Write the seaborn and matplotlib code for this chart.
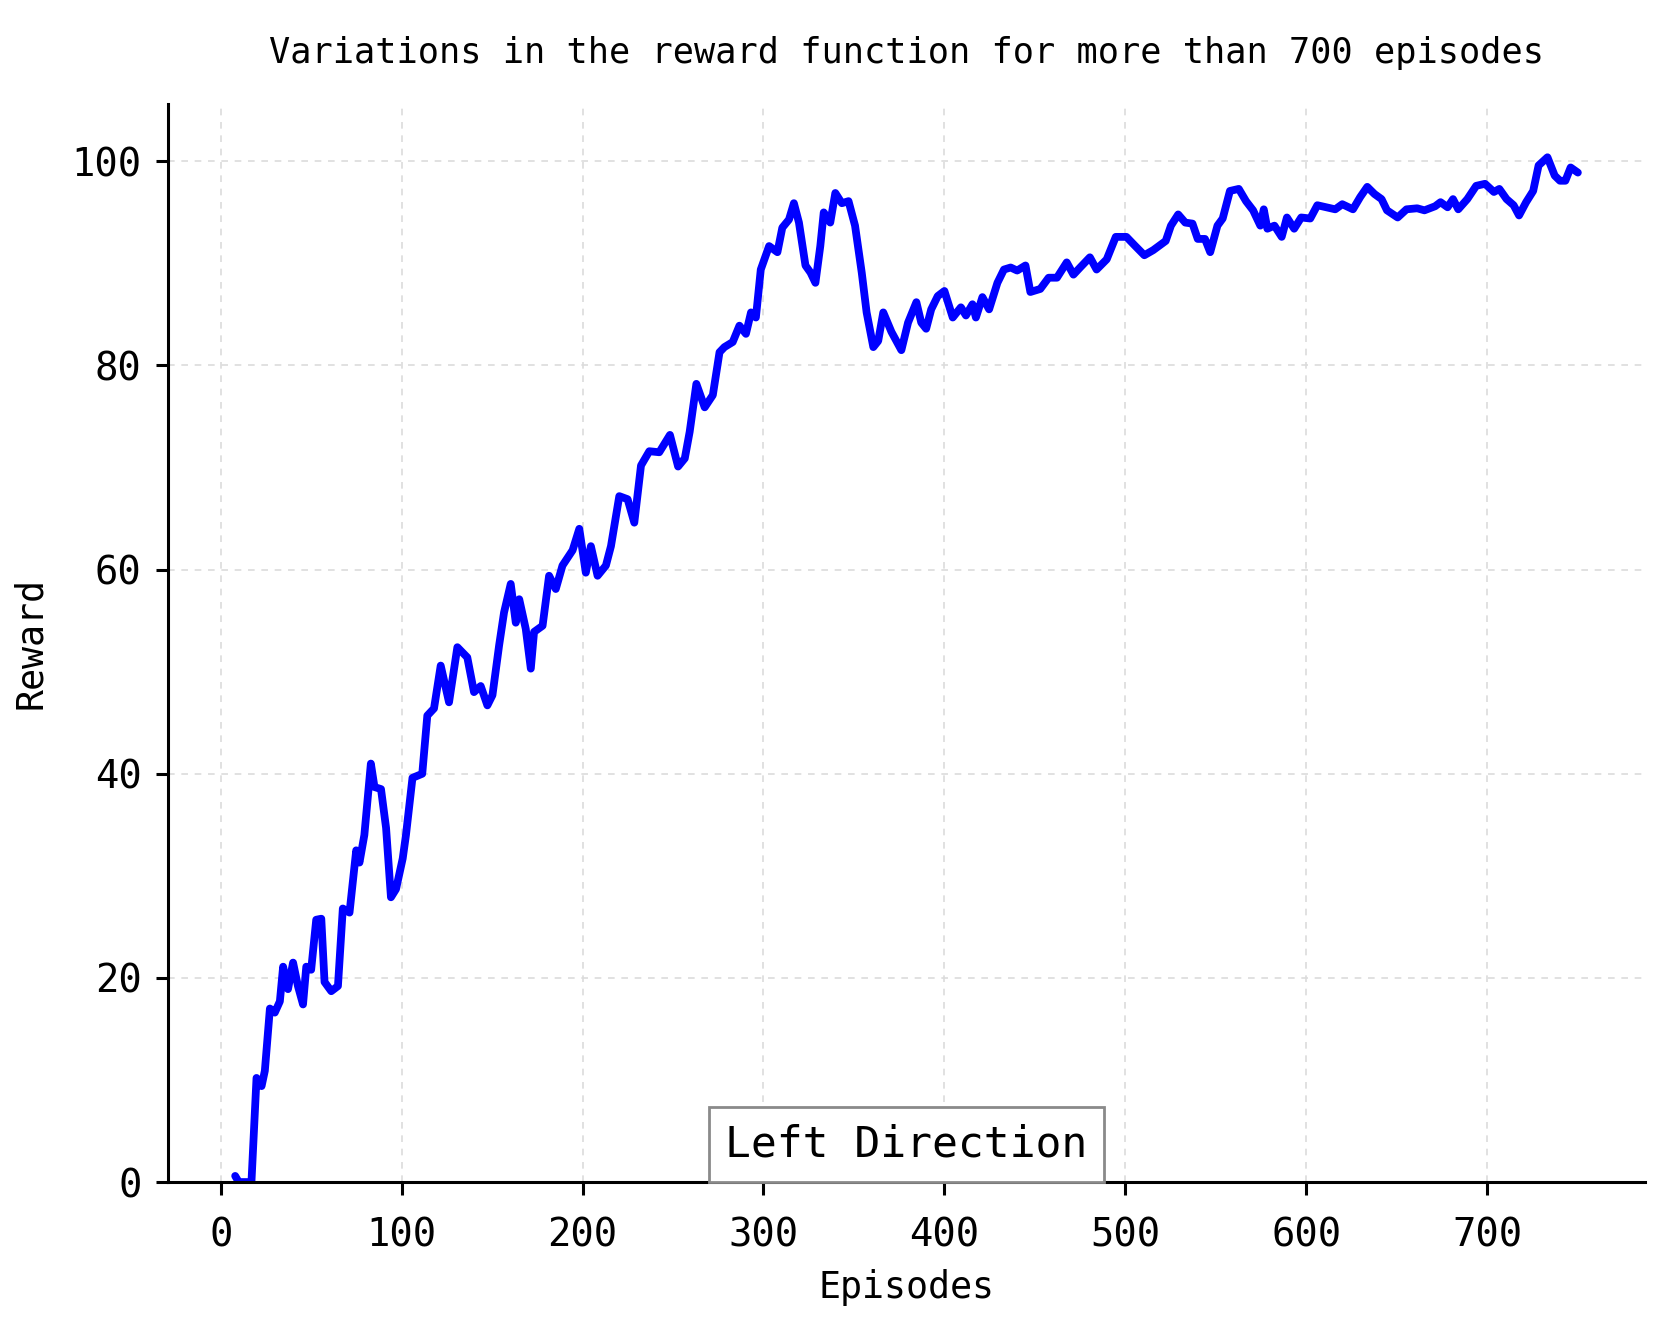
import numpy as np
import pandas as pd
import seaborn as sns
import matplotlib.pyplot as plt

# values
episodes = [8, 10, 17, 19.8, 22.6, 24.4, 27.2, 29.9, 32.7, 34.5, 37.2, 40, 42.7, 45.5, 47.3, 50,
            52.8, 55.6, 57.4, 61.1, 64.8, 67.5, 71.2, 74.9, 76.7, 79.4, 83, 85, 88.6, 91.4, 94.1,
            96.9, 100.6, 102.4, 106, 111.4, 114.2, 117.9, 121.6, 126.2, 130.8, 136.3, 140, 143.7,
            147.4, 150.2, 153.9, 156.6, 160.3, 163.1, 165, 168.6, 171.4, 173.2, 177.9, 181.5,
            185.2, 188.9, 194.5, 198.2, 201.8, 204.6, 208.3, 212.9, 215.7, 220.3, 224.9, 228.6,
            232.3, 236.9, 242.4, 248.3, 252.8, 256.5, 259.2, 262.9, 267.5, 272, 275.7, 278.4, 283,
            286.7, 290.3, 293.1, 295.8, 298.5, 303.1, 307.7, 310.4, 314.1, 316.8, 319.6, 323.2,
            326, 328.7, 331.4, 333.3, 336.9, 339.7, 343.3, 347, 350.6, 354.3, 357, 360.7, 363.4,
            366.2, 370.7, 376.2, 379.9, 384.5, 387.2, 389.9, 392.7, 396.3, 400, 404.6, 409.1,
            411.9, 415.5, 417.4, 421, 424.7, 429.3, 432.9, 436.6, 440.2, 444.8, 447.5, 453, 457.6,
            462.2, 467.6, 471.3, 475, 480.4, 484.1, 489.7, 494.7, 500.6, 505.5, 510.5, 515.4,
            522.3, 525.2, 529.2, 533.1, 537.1, 540, 544, 546.9, 550.9, 553.8, 557.8, 562.7, 566.7,
            570.6, 574.6, 576.5, 578.5, 582.4, 586.4, 589.3, 593.3, 597.2, 602.2, 606.1, 611, 616,
            619.9, 625.8, 629.8, 633.7, 637.7, 641.6, 644.6, 650.5, 655.4, 661.3, 665.3, 671.2,
            674.2, 678.1, 681.1, 684, 689, 693.9, 698.8, 703.7, 706.7, 710.7, 714.6, 717.6, 721.5,
            725.4, 728.4, 733.3, 737.3, 740.2, 743.2, 746.1, 750.1]
rewards = [0.6, 0.0, 0.0, 10.2, 9.4, 10.9, 17, 16.6, 17.7, 21.1, 18.9, 21.5, 19.2, 17.4, 21.1, 20.8,
           25.7, 25.8, 19.6, 18.7, 19.2, 26.8, 26.4, 32.5, 31.3, 34, 41, 38.7, 38.5, 34.7, 27.9,
           28.7, 31.7, 34, 39.6, 40, 45.7, 46.4, 50.6, 47, 52.4, 51.4, 48, 48.6,
           46.7, 47.7, 52.6, 55.8, 58.6, 54.8, 57.1, 54.2, 50.3, 53.9, 54.5, 59.4,
           58.1, 60.4, 61.9, 64, 59.7, 62.3, 59.4, 60.4, 62.3, 67.2, 66.9, 64.6,
           70.2, 71.6, 71.5, 73.2, 70.1, 70.9, 73.5, 78.2, 75.9, 77.1, 81.3, 81.8, 82.3,
           83.9, 83.1, 85.2, 84.7, 89.4, 91.7, 91.1, 93.5, 94.3, 95.9, 94, 89.8,
           89.1, 88.1, 91.7, 95, 94, 96.9, 95.9, 96.1, 93.7, 89.1, 85.2, 81.8, 82.4,
           85.2, 83.3, 81.5, 84.2, 86.2, 84.2, 83.6, 85.5, 86.8, 87.3, 84.7, 85.7,
           84.9, 86, 84.7, 86.7, 85.5, 88.1, 89.4, 89.6, 89.3, 89.8, 87.2, 87.5, 88.6,
           88.6, 90.1, 88.9, 89.6, 90.6, 89.4, 90.4, 92.6, 92.6, 91.7, 90.8, 91.3,
           92.2, 93.7, 94.8, 94, 93.9, 92.4, 92.4, 91.1, 93.7, 94.4, 97.1, 97.3, 96.1,
           95.2, 93.7, 95.3, 93.4, 93.7, 92.6, 94.5, 93.4, 94.5, 94.4, 95.7, 95.5, 95.3,
           95.8, 95.3, 96.5, 97.5, 96.8, 96.3, 95.2, 94.5, 95.3, 95.4, 95.2, 95.6,
           96, 95.5, 96.3, 95.3, 96.3, 97.6, 97.8, 97, 97.3, 96.3, 95.7, 94.7, 96,
           97.1, 99.6, 100.4, 98.6, 98.1, 98.1, 99.4, 98.9]

df = pd.DataFrame({"Episodes": episodes, "Reward": rewards})

sns.set_style("white")
plt.rcParams['font.family'] = ['DejaVu Sans Mono']
plt.rcParams['text.color'] = 'black'
plt.rcParams['axes.labelcolor'] = 'black'
plt.rcParams['xtick.color'] = 'black'
plt.rcParams['ytick.color'] = 'black'

fig = plt.figure(figsize=(8.335, 6.67), dpi=200)
ax = fig.add_axes([0.1008, 0.1139, 0.886, 0.808])

sns.lineplot(data=df, x="Episodes", y="Reward", color="#0000ff", linewidth=2.8, ax=ax)

ax.set_ylim(0, 105.6)
ax.set_yticks([0, 20, 40, 60, 80, 100])
ax.set_xticks([0, 100, 200, 300, 400, 500, 600, 700])

ax.grid(True, color="#dcdcdc", linestyle=(0, (4, 4)), linewidth=0.6)
for side in ["top", "right"]:
    ax.spines[side].set_visible(False)
for side in ["left", "bottom"]:
    ax.spines[side].set_color("black")
    ax.spines[side].set_linewidth(1.1)

ax.tick_params(axis="both", direction="out", length=4.5, width=1.1, color="black",
               labelsize=14, bottom=True, left=True)
ax.tick_params(axis="x", pad=8)
ax.tick_params(axis="y", pad=5)

ax.set_xlabel("Episodes", fontsize=13.2, labelpad=5)
ax.set_ylabel("Reward", fontsize=13.2, labelpad=8)
ax.set_title("Variations in the reward function for more than 700 episodes",
             fontsize=12.7, pad=15)

# label box sitting on the x axis
ax.annotate("Left Direction", xy=(0.5, 0.0), xycoords="axes fraction",
            xytext=(0, 6.0), textcoords="offset points", ha="center", va="bottom",
            fontsize=15.5, zorder=5,
            bbox=dict(boxstyle="square,pad=0.38", facecolor="white", edgecolor="#8a8a8a", linewidth=1.0))

fig.savefig("out.png", dpi=200)
